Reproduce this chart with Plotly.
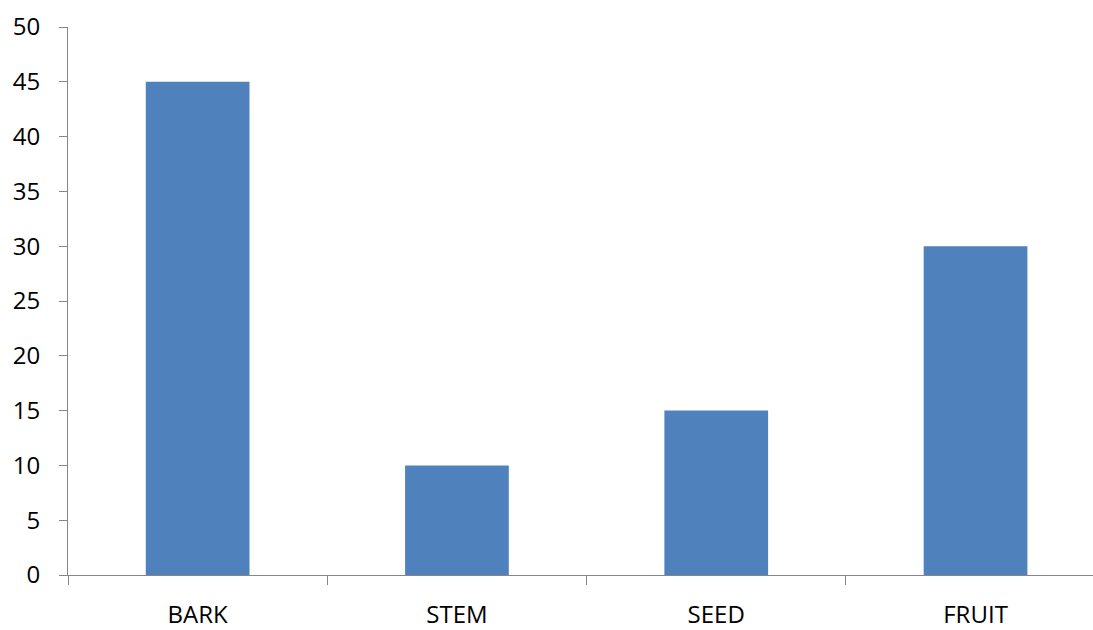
import plotly.graph_objects as go

categories = ["BARK", "STEM", "SEED", "FRUIT"]
values = [45, 10, 15, 30]

fig = go.Figure(go.Bar(x=categories, y=values, marker=dict(color="#4F81BD", line=dict(width=0))))

fig.update_layout(
    width=1093, height=630,
    margin=dict(l=68, r=0, t=27, b=55),
    plot_bgcolor="white", paper_bgcolor="white",
    bargap=0.6,
    showlegend=False,
    font=dict(family="Open Sans", size=24, color="black"),
)
fig.update_xaxes(
    range=[-0.5, 3.453],
    showline=True, linecolor="#868686", linewidth=1,
    ticks="outside", ticklen=9, tickcolor="#868686", tickson="boundaries",
    showgrid=False, zeroline=False,
    ticklabelstandoff=18,
    automargin=False,
)
fig.update_yaxes(
    range=[0, 50], dtick=5,
    showline=True, linecolor="#868686", linewidth=1,
    ticks="outside", ticklen=8, tickcolor="#868686",
    showgrid=False, zeroline=False,
    ticklabelstandoff=14,
    automargin=False,
)

fig.write_html("out.html")
